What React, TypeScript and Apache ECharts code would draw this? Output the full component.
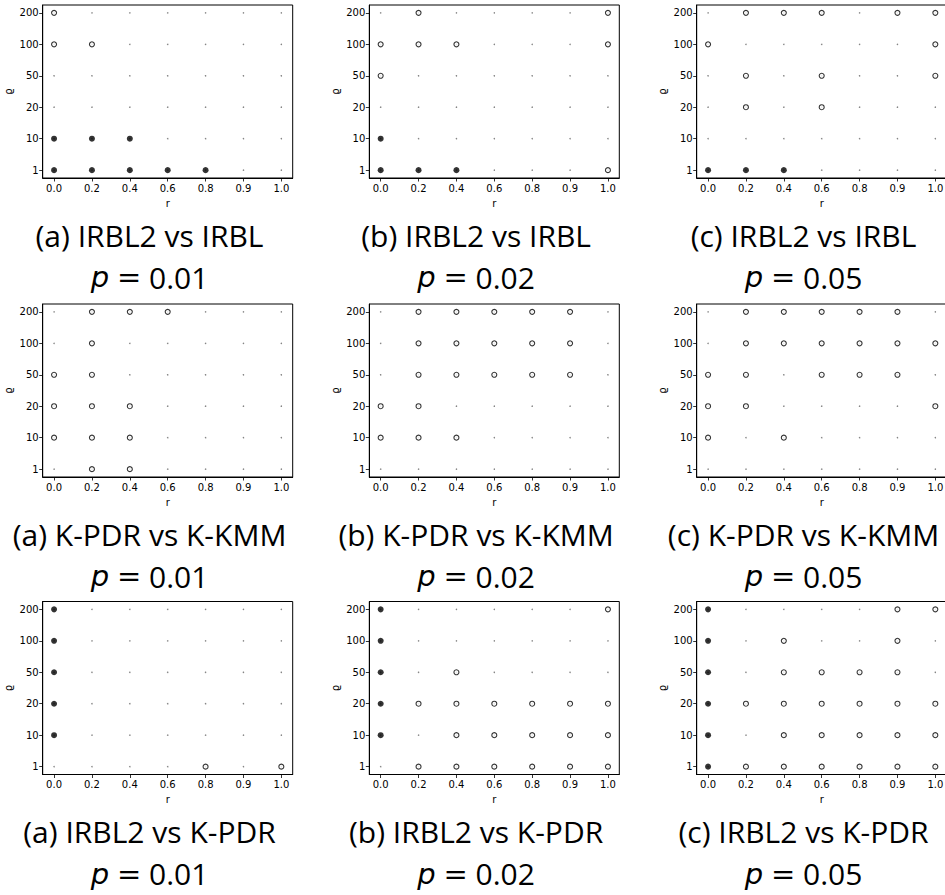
import React, { useEffect, useRef } from "react";
import * as echarts from "echarts";

const R_LABELS = ["0.0", "0.2", "0.4", "0.6", "0.8", "0.9", "1.0"];
const Q_LABELS = ["1", "10", "20", "50", "100", "200"];

const ROW_NAMES = ["IRBL2 vs IRBL", "K-PDR vs K-KMM", "IRBL2 vs K-PDR"];
const COL_LETTERS = ["a", "b", "c"];
const P_VALUES = ["0.01", "0.02", "0.05"];

// [r, rho] pairs
const A1_FILLED = [["0.0", "10"], ["0.2", "10"], ["0.4", "10"], ["0.0", "1"], ["0.2", "1"], ["0.4", "1"], ["0.6", "1"], ["0.8", "1"]];
const A1_OPEN = [["0.0", "200"], ["0.0", "100"], ["0.2", "100"]];

const B1_FILLED = [["0.0", "10"], ["0.0", "1"], ["0.2", "1"], ["0.4", "1"]];
const B1_OPEN = [["0.2", "200"], ["1.0", "200"], ["0.0", "100"], ["0.2", "100"], ["0.4", "100"], ["1.0", "100"], ["0.0", "50"], ["1.0", "1"]];

const C1_FILLED = [["0.0", "1"], ["0.2", "1"], ["0.4", "1"]];
const C1_OPEN = [["0.2", "200"], ["0.4", "200"], ["0.6", "200"], ["0.9", "200"], ["1.0", "200"], ["0.0", "100"], ["1.0", "100"], ["0.2", "50"], ["0.6", "50"], ["1.0", "50"], ["0.2", "20"], ["0.6", "20"]];

const A2_FILLED: string[][] = [];
const A2_OPEN = [["0.2", "200"], ["0.4", "200"], ["0.6", "200"], ["0.2", "100"], ["0.0", "50"], ["0.2", "50"], ["0.0", "20"], ["0.2", "20"], ["0.4", "20"], ["0.0", "10"], ["0.2", "10"], ["0.4", "10"], ["0.2", "1"], ["0.4", "1"]];

const B2_FILLED: string[][] = [];
const B2_OPEN = [["0.2", "200"], ["0.4", "200"], ["0.6", "200"], ["0.8", "200"], ["0.9", "200"], ["0.2", "100"], ["0.4", "100"], ["0.6", "100"], ["0.8", "100"], ["0.9", "100"], ["0.2", "50"], ["0.4", "50"], ["0.6", "50"], ["0.8", "50"], ["0.9", "50"], ["0.0", "20"], ["0.2", "20"], ["0.0", "10"], ["0.2", "10"], ["0.4", "10"]];

const C2_FILLED: string[][] = [];
const C2_OPEN = [["0.2", "200"], ["0.4", "200"], ["0.6", "200"], ["0.8", "200"], ["0.9", "200"], ["0.2", "100"], ["0.4", "100"], ["0.6", "100"], ["0.8", "100"], ["0.9", "100"], ["1.0", "100"], ["0.0", "50"], ["0.2", "50"], ["0.6", "50"], ["0.8", "50"], ["0.9", "50"], ["0.0", "20"], ["0.2", "20"], ["1.0", "20"], ["0.0", "10"], ["0.4", "10"]];

const A3_FILLED = [["0.0", "200"], ["0.0", "100"], ["0.0", "50"], ["0.0", "20"], ["0.0", "10"]];
const A3_OPEN = [["0.8", "1"], ["1.0", "1"]];

const B3_FILLED = [["0.0", "200"], ["0.0", "100"], ["0.0", "50"], ["0.0", "20"], ["0.0", "10"]];
const B3_OPEN = [["1.0", "200"], ["0.4", "50"], ["0.2", "20"], ["0.4", "20"], ["0.6", "20"], ["0.8", "20"], ["0.9", "20"], ["1.0", "20"], ["0.4", "10"], ["0.6", "10"], ["0.8", "10"], ["0.9", "10"], ["1.0", "10"], ["0.2", "1"], ["0.4", "1"], ["0.6", "1"], ["0.8", "1"], ["0.9", "1"], ["1.0", "1"]];

const C3_FILLED = [["0.0", "200"], ["0.0", "100"], ["0.0", "50"], ["0.0", "20"], ["0.0", "10"], ["0.0", "1"]];
const C3_OPEN = [["0.9", "200"], ["1.0", "200"], ["0.4", "100"], ["0.9", "100"], ["0.4", "50"], ["0.6", "50"], ["0.8", "50"], ["0.9", "50"], ["0.2", "20"], ["0.4", "20"], ["0.6", "20"], ["0.8", "20"], ["0.9", "20"], ["1.0", "20"], ["0.4", "10"], ["0.6", "10"], ["0.8", "10"], ["0.9", "10"], ["1.0", "10"], ["0.2", "1"], ["0.4", "1"], ["0.6", "1"], ["0.8", "1"], ["0.9", "1"], ["1.0", "1"]];

const PANELS = [
  [A1_FILLED, A1_OPEN], [B1_FILLED, B1_OPEN], [C1_FILLED, C1_OPEN],
  [A2_FILLED, A2_OPEN], [B2_FILLED, B2_OPEN], [C2_FILLED, C2_OPEN],
  [A3_FILLED, A3_OPEN], [B3_FILLED, B3_OPEN], [C3_FILLED, C3_OPEN],
];

const COL_LEFT = [42.7, 369.3, 696.7];
const ROW_TOP = [5, 304, 601.5];
const GRID_W = 250;
const GRID_H = 173;
const CAP_DX = 106.8;
const CAP1_DY = 233;
const CAP2_DY = 275;

const toXY = (p: string[]) => [R_LABELS.indexOf(p[0]), Q_LABELS.indexOf(p[1])];

export default function App() {
  const ref = useRef<HTMLDivElement>(null);
  useEffect(() => {
    if (!ref.current) return;
    const chart = echarts.init(ref.current, null, { renderer: "svg" });
    const grids: any[] = [];
    const xAxes: any[] = [];
    const yAxes: any[] = [];
    const series: any[] = [];
    const titles: any[] = [];
    const font = "DejaVu Sans";
    const allPts: number[][] = [];
    R_LABELS.forEach((_, i) => Q_LABELS.forEach((_, j) => allPts.push([i, j])));
    for (let k = 0; k < 9; k++) {
      const row = Math.floor(k / 3);
      const col = k % 3;
      grids.push({
        left: COL_LEFT[col], top: ROW_TOP[row], width: GRID_W, height: GRID_H,
        show: true, borderColor: "#000", borderWidth: 1, backgroundColor: "#fff",
        containLabel: false, outerBoundsMode: "none",
      });
      xAxes.push({
        type: "value", gridIndex: k, min: -0.3, max: 6.3,
        name: "r", nameLocation: "middle", nameGap: 20,
        nameTextStyle: { fontFamily: font, fontSize: 10, color: "#000" },
        axisLine: { show: true, onZero: false, lineStyle: { color: "#000", width: 1 } },
        axisTick: { show: true, length: 3.5, customValues: [0, 1, 2, 3, 4, 5, 6], lineStyle: { color: "#000", width: 0.8 } },
        axisLabel: { customValues: [0, 1, 2, 3, 4, 5, 6], formatter: (v: number) => R_LABELS[Math.round(v)], fontFamily: font, fontSize: 10, color: "#000", margin: 5 },
        splitLine: { show: false },
      });
      yAxes.push({
        type: "value", gridIndex: k, min: -0.25, max: 5.25,
        name: "ϱ", nameLocation: "middle", nameGap: 29, nameRotate: 90,
        nameTextStyle: { fontFamily: font, fontSize: 10, color: "#000" },
        axisLine: { show: true, onZero: false, lineStyle: { color: "#000", width: 1 } },
        axisTick: { show: true, length: 3.5, customValues: [0, 1, 2, 3, 4, 5], lineStyle: { color: "#000", width: 0.8 } },
        axisLabel: { customValues: [0, 1, 2, 3, 4, 5], formatter: (v: number) => Q_LABELS[Math.round(v)], fontFamily: font, fontSize: 10, color: "#000", margin: 4 },
        splitLine: { show: false },
      });
      const [filled, open] = PANELS[k];
      series.push({
        type: "scatter", xAxisIndex: k, yAxisIndex: k, data: allPts,
        symbol: "circle", symbolSize: 1.5, itemStyle: { color: "#666" }, silent: true, z: 1,
      });
      series.push({
        type: "scatter", xAxisIndex: k, yAxisIndex: k, data: open.map(toXY),
        symbol: "circle", symbolSize: 5, itemStyle: { color: "#fff", borderColor: "#000", borderWidth: 1.1 }, z: 2,
      });
      series.push({
        type: "scatter", xAxisIndex: k, yAxisIndex: k, data: filled.map(toXY),
        symbol: "circle", symbolSize: 6, itemStyle: { color: "#000" }, z: 3,
      });
      const cx = COL_LEFT[col] + CAP_DX;
      titles.push({
        text: `(${COL_LETTERS[col]}) ${ROW_NAMES[row]}`,
        left: cx, top: ROW_TOP[row] + CAP1_DY - 18, textAlign: "center",
        padding: 0,
        textStyle: { fontFamily: "Open Sans", fontSize: 30, fontWeight: "normal", color: "#000" },
      });
      titles.push({
        text: `{i|p} {e|=} {n|${P_VALUES[col]}}`,
        left: cx, top: ROW_TOP[row] + CAP2_DY - 18, textAlign: "center",
        padding: 0,
        textStyle: {
          fontFamily: "Open Sans", fontSize: 30, fontWeight: "normal", color: "#000",
          rich: {
            i: { fontFamily: "DejaVu Sans", fontStyle: "italic", fontSize: 29, color: "#000" },
            e: { fontFamily: "DejaVu Sans", fontSize: 29, color: "#000" },
            n: { fontFamily: "Open Sans", fontSize: 30, color: "#000" },
          },
        },
      });
    }
    chart.setOption({
      animation: false,
      backgroundColor: "#fff",
      title: titles,
      grid: grids,
      xAxis: xAxes,
      yAxis: yAxes,
      series,
    });
    return () => chart.dispose();
  }, []);
  return <div ref={ref} style={{ position: "absolute", left: 0, top: 0, width: 945, height: 895 }} />;
}
